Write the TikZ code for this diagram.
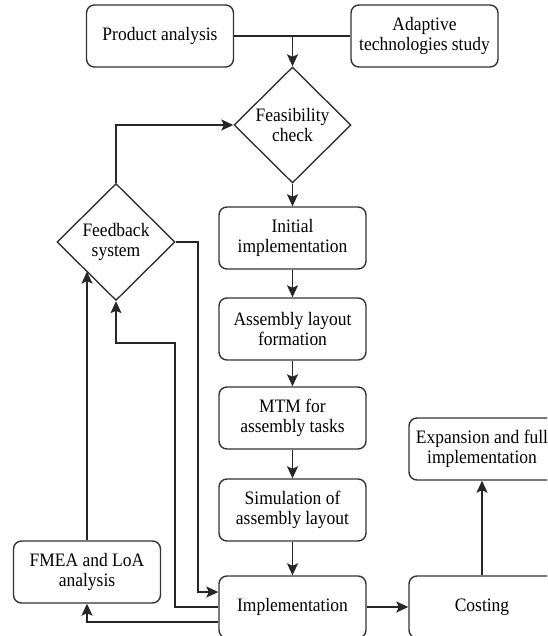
\documentclass[tikz,border=0pt]{standalone}
\usepackage{fontspec}
\setmainfont[FakeStretch=0.92]{Liberation Serif}
\usetikzlibrary{shapes.geometric,arrows.meta}

\tikzset{
  flow/.style={line width=1.4pt, draw=black!85},
  arr/.style={flow, -{Stealth[length=12pt,width=11pt,inset=2.5pt]}},
  stepbox/.style={draw=black!80, line width=1.4pt, rounded corners=8pt,
    minimum width=147pt, minimum height=62pt, inner sep=0pt, align=center,
    font=\fontsize{19}{20}\selectfont},
  decision/.style={draw=black!80, line width=1.4pt, diamond, aspect=1,
    minimum width=117pt, minimum height=116pt, inner sep=0pt, align=center,
    font=\fontsize{19}{20}\selectfont},
}

\begin{document}
\begin{tikzpicture}[x=1pt, y=1pt]
  \useasboundingbox (0,0) rectangle (547,-636);
  \clip (0,0) rectangle (547,-636);

  % process boxes
  \node[stepbox] (prod)  at (160,-36)   {Product analysis};
  \node[stepbox] (adapt) at (424.5,-36) {Adaptive\\technologies study};
  \node[decision] (feas) at (292.5,-125) {Feasibility\\check};
  \node[stepbox] (init)  at (292.5,-238) {Initial\\implementation};
  \node[stepbox] (assy)  at (292.5,-329) {Assembly layout\\formation};
  \node[stepbox] (mtm)   at (292.5,-418) {MTM for\\assembly tasks};
  \node[stepbox] (sim)   at (292.5,-510) {Simulation of\\assembly layout};
  \node[stepbox] (impl)  at (292.5,-607) {Implementation};
  \node[decision, minimum width=118pt, minimum height=117pt] (fb) at (116,-242) {Feedback\\system};
  \node[stepbox] (fmea)  at (87,-572) {FMEA and LoA\\analysis};
  \node[stepbox, minimum width=146pt] (cost) at (482,-607) {Costing};
  \node[stepbox, minimum width=146pt] (exp)  at (482,-449) {Expansion and full\\implementation};

  % routing points
  \coordinate (join) at (feas.north |- prod.east);
  \coordinate (fbout) at (198,-592);
  \coordinate (fbin) at (175,-343);

  % top inputs merge into the feasibility check
  \draw[flow] (prod.east) -- (adapt.west);
  \draw[arr] (join) -- (feas.north);

  % main column
  \draw[arr] (feas.south) -- (init.north);
  \draw[arr] (init.south) -- (assy.north);
  \draw[arr] (assy.south) -- (mtm.north);
  \draw[arr] (mtm.south) -- (sim.north);
  \draw[arr] (sim.south) -- (impl.north);
  \draw[arr] (impl.east) -- (cost.west);
  \draw[arr] (cost.north) -- (exp.south);

  % feedback loops
  \draw[arr] (fb.north) |- (feas.west);
  \draw[arr] (fb.east) -| (fbout) -- (fbout -| impl.west);
  \draw[arr] (impl.west) -| (fbin) -| (fb.south);
  \draw[arr] ([yshift=-15pt]impl.west) -| (fmea.south);
  \draw[arr] (fmea.north) -- (fmea.north |- fb.south west);
\end{tikzpicture}
\end{document}
